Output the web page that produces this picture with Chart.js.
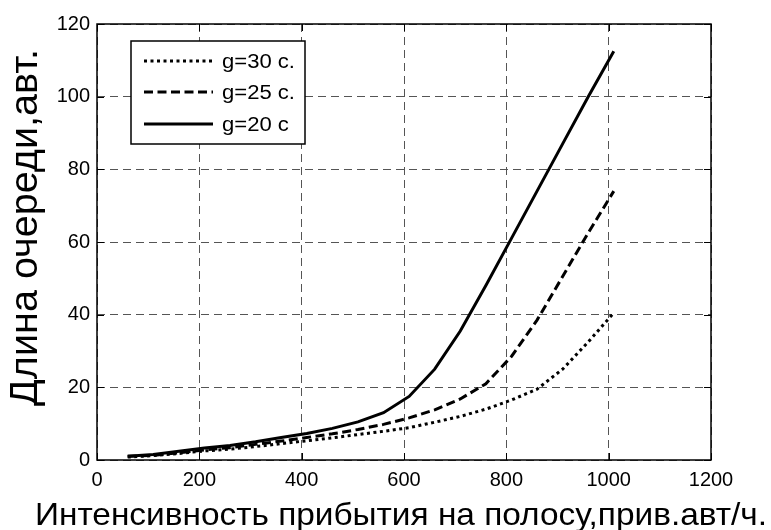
<!DOCTYPE html>
<html><head><meta charset="utf-8">
<script src="https://cdn.jsdelivr.net/npm/chart.js@4"></script>
<style>html,body{margin:0;padding:0;background:#fff}#wrap{width:771px;height:530px}</style>
</head><body><div id="wrap"><canvas id="c" width="771" height="530"></canvas></div>
<script>
const xValues = [60,110,160,210,260,310,360,410,460,510,560,610,660,710,760,810,860,910,960,1010];
const g30 = [0.8,1.2,1.8,2.5,3.0,3.7,4.5,5.3,6.1,7.0,7.9,8.9,10.4,12.0,14.0,16.5,19.5,25.0,32.5,40.5];
const g25 = [1.0,1.3,2.0,2.8,3.4,4.3,5.2,6.2,7.2,8.4,9.8,11.6,13.8,16.8,21.0,28.5,38.5,50.5,62.5,74.0];
const g20 = [1.0,1.5,2.4,3.3,4.0,5.0,6.2,7.3,8.7,10.5,13.0,17.5,25.0,35.5,48.0,61.0,74.0,87.0,100.0,112.5];
const seriesLabels = ['g=30 c.','g=25 c.','g=20 c'];
const xTicks = [0,200,400,600,800,1000,1200];
const yTicks = [0,20,40,60,80,100,120];
const xTitle = 'Интенсивность прибытия на полосу,прив.авт/ч.';
const yTitle = 'Длина очереди,авт.';

const FONT = "'Liberation Sans', Arial, sans-serif";
const dashes = [[3,3.5],[9,4.5],[]];

const toPts = ys => xValues.map((x,i)=>({x:x,y:ys[i]}));
const datasets = [g30,g25,g20].map((ys,i)=>({
  label: seriesLabels[i],
  data: toPts(ys),
  borderColor:'#000',
  borderWidth:3,
  borderDash:dashes[i],
  borderCapStyle:'butt',
  pointRadius:0,
  tension:0,
  fill:false
}));

function stretchedText(ctx, text, x, y, px, width, rotate){
  ctx.save();
  ctx.font = px+'px '+FONT;
  const w0 = ctx.measureText(text).width;
  ctx.translate(x,y);
  if (rotate) ctx.rotate(-Math.PI/2);
  ctx.scale(width/w0,1);
  ctx.textAlign='left';
  ctx.textBaseline='alphabetic';
  ctx.fillStyle='#000';
  ctx.fillText(text,0,0);
  ctx.restore();
}

const framePlugin = {
  id:'frame',
  afterDraw(chart){
    const {ctx, chartArea:a, scales} = chart;
    ctx.save();
    ctx.setLineDash([]);
    ctx.strokeStyle='#000';
    ctx.lineWidth=1.5;
    ctx.strokeRect(a.left, a.top, a.right-a.left, a.bottom-a.top);
    ctx.lineWidth=1;
    const tl=7;
    ctx.beginPath();
    xTicks.forEach(v=>{
      const px=Math.round(scales.x.getPixelForValue(v))+0.5;
      ctx.moveTo(px,a.bottom); ctx.lineTo(px,a.bottom-tl);
      ctx.moveTo(px,a.top); ctx.lineTo(px,a.top+tl);
    });
    yTicks.forEach(v=>{
      const py=Math.round(scales.y.getPixelForValue(v))+0.5;
      ctx.moveTo(a.left,py); ctx.lineTo(a.left+tl,py);
      ctx.moveTo(a.right,py); ctx.lineTo(a.right-tl,py);
    });
    ctx.stroke();
    // axis titles
    stretchedText(ctx, xTitle, 35, 525, 32, 732, false);
    stretchedText(ctx, yTitle, 37, 406, 38, 357, true);
    // legend
    const bx=131, by=41, bw=174, bh=103;
    ctx.fillStyle='#fff';
    ctx.fillRect(bx,by,bw,bh);
    ctx.lineWidth=1.5;
    ctx.strokeStyle='#000';
    ctx.strokeRect(bx,by,bw,bh);
    const rows=[61,92,124];
    ctx.font='20px '+FONT;
    const legScale = 73/ctx.measureText(seriesLabels[0]).width;
    chart.data.datasets.forEach((ds,i)=>{
      ctx.save();
      ctx.strokeStyle=ds.borderColor;
      ctx.lineWidth=ds.borderWidth;
      ctx.setLineDash(ds.borderDash);
      ctx.lineCap='butt';
      ctx.beginPath();
      ctx.moveTo(144,rows[i]); ctx.lineTo(213,rows[i]);
      ctx.stroke();
      ctx.restore();
      ctx.save();
      ctx.font='20px '+FONT;
      ctx.fillStyle='#000';
      ctx.textBaseline='alphabetic';
      ctx.textAlign='left';
      ctx.translate(222,rows[i]+7);
      ctx.scale(legScale,1);
      ctx.fillText(ds.label,0,0);
      ctx.restore();
    });
    ctx.restore();
  }
};

new Chart(document.getElementById('c'),{
  type:'line',
  data:{datasets},
  options:{
    responsive:false,
    animation:false,
    devicePixelRatio:1,
    layout:{padding:{left:0,right:60,top:24,bottom:0}},
    plugins:{legend:{display:false},tooltip:{enabled:false}},
    scales:{
      x:{
        type:'linear',min:0,max:1200,
        afterBuildTicks:s=>{s.ticks=xTicks.map(v=>({value:v}));},
        afterFit:s=>{s.height=70;},
        ticks:{color:'#000',font:{family:FONT,size:20},padding:8,maxRotation:0,callback:v=>String(v)},
        grid:{color:'#555',lineWidth:1,drawTicks:false},
        border:{display:false,dash:[8,5]},
        title:{display:false}
      },
      y:{
        type:'linear',min:0,max:120,
        afterBuildTicks:s=>{s.ticks=yTicks.map(v=>({value:v}));},
        afterFit:s=>{s.width=97;},
        ticks:{color:'#000',font:{family:FONT,size:20},padding:7,callback:v=>String(v)},
        grid:{color:'#555',lineWidth:1,drawTicks:false},
        border:{display:false,dash:[8,5]},
        title:{display:false}
      }
    }
  },
  plugins:[framePlugin]
});
</script></body></html>
